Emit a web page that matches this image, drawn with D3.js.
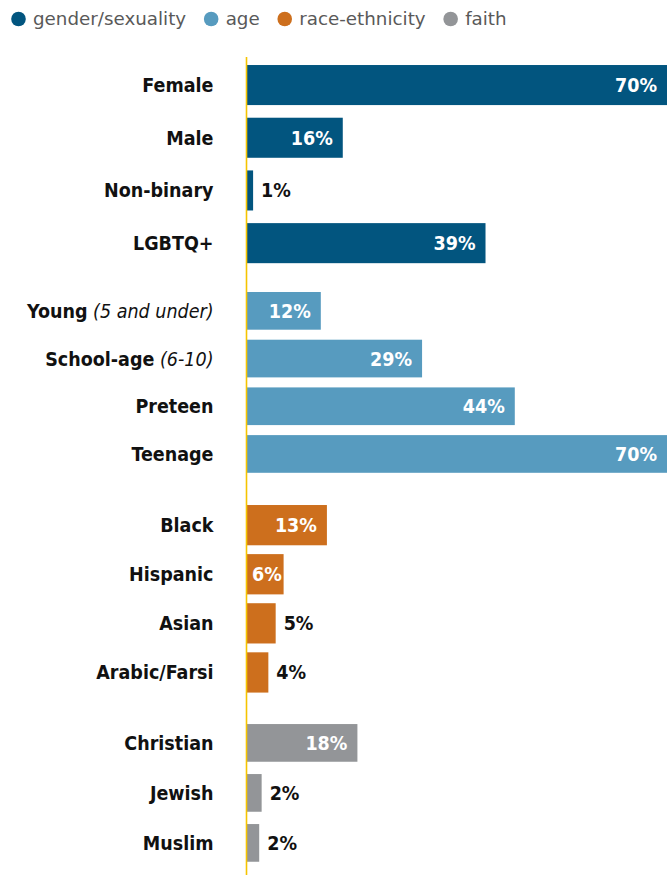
<!DOCTYPE html>
<html>
<head>
<meta charset="utf-8">
<script src="https://cdn.jsdelivr.net/npm/d3@7"></script>
<style>
  html, body { margin: 0; padding: 0; background: #fff; }
  svg { display: block; }
  text { font-family: "DejaVu Sans", Verdana, sans-serif; }
  text.lbl { font-family: "DejaVu Sans Condensed", "DejaVu Sans", sans-serif; font-stretch: condensed; }
</style>
</head>
<body>
<svg id="chart" width="667" height="875"></svg>
<script>
// ---- data ----
const groups = ["gender/sexuality", "age", "race-ethnicity", "faith"];
const groupColors = ["#02557f", "#579bbf", "#cd6f1d", "#939598"];

const genderCats = ["Female", "Male", "Non-binary", "LGBTQ+"];
const genderVals = [70, 15.7, 1.0, 39.1];

const ageCats = ["Young", "School-age", "Preteen", "Teenage"];
const ageNotes = ["(5 and under)", "(6-10)", "", ""];
const ageVals = [12.1, 28.7, 43.9, 70];

const raceCats = ["Black", "Hispanic", "Asian", "Arabic/Farsi"];
const raceVals = [13.1, 6.0, 4.7, 3.5];

const faithCats = ["Christian", "Jewish", "Muslim"];
const faithVals = [18.1, 2.4, 2.0];

// ---- layout ----
const W = 667, H = 875;
const svg = d3.select("#chart");
const axisX = 247;
const x = d3.scaleLinear().domain([0, 70]).range([axisX, axisX + 427]);

const groupData = [
  { cats: genderCats, notes: genderCats.map(() => ""), vals: genderVals, range: [58.7, 269.5], pad: 0.24 },
  { cats: ageCats, notes: ageNotes, vals: ageVals, range: [287, 477.8], pad: 0.21 },
  { cats: raceCats, notes: raceCats.map(() => ""), vals: raceVals, range: [500.6, 697], pad: 0.18 },
  { cats: faithCats, notes: faithCats.map(() => ""), vals: faithVals, range: [717.9, 867.9], pad: 0.246 }
];

const defs = svg.append("defs");
defs.append("clipPath").attr("id", "clip")
  .append("rect").attr("x", 0).attr("y", 0).attr("width", W).attr("height", H);

const plot = svg.append("g").attr("clip-path", "url(#clip)");

groupData.forEach((g, gi) => {
  const y = d3.scaleBand().domain(g.cats).range(g.range)
    .paddingInner(g.pad).paddingOuter(g.pad / 2);
  const rows = g.cats.map((c, i) => ({ cat: c, note: g.notes[i], val: g.vals[i] }));
  const color = groupColors[gi];

  const gg = plot.append("g");

  gg.selectAll("rect").data(rows).join("rect")
    .attr("x", x(0))
    .attr("y", d => y(d.cat))
    .attr("width", d => x(d.val) - x(0))
    .attr("height", y.bandwidth())
    .attr("fill", color);

  // category labels
  const lab = svg.append("g").selectAll("text").data(rows).join("text")
    .attr("class", "lbl")
    .attr("x", 213.5)
    .attr("y", d => y(d.cat) + y.bandwidth() / 2)
    .attr("dy", "0.36em")
    .attr("text-anchor", "end")
    .attr("font-size", 19.5)
    .attr("fill", "#111");
  lab.append("tspan").attr("font-weight", "bold").text(d => d.cat);
  lab.filter(d => d.note).append("tspan")
    .attr("font-style", "italic").attr("font-weight", "normal")
    .text(d => "\u00a0" + d.note);

  // value labels
  const vl = svg.append("g").selectAll("text").data(rows).join("text")
    .attr("class", "lbl")
    .attr("y", d => y(d.cat) + y.bandwidth() / 2)
    .attr("dy", "0.36em")
    .attr("font-size", 19.5)
    .attr("font-weight", "bold")
    .text(d => Math.round(d.val) + "%");
  vl.each(function (d) {
    const t = d3.select(this);
    const tw = this.getComputedTextLength();
    const barEnd = Math.min(x(d.val), W);
    const bw = x(d.val) - x(0);
    if (bw > tw + 4) {
      const endX = Math.max(barEnd - 10, x(0) + 5 + tw);
      t.attr("x", endX).attr("text-anchor", "end").attr("fill", "#fff");
    } else {
      t.attr("x", x(d.val) + 8).attr("text-anchor", "start").attr("fill", "#111");
    }
  });
});

// baseline axis (yellow)
svg.append("line")
  .attr("x1", axisX - 0.5).attr("x2", axisX - 0.5)
  .attr("y1", 57).attr("y2", H)
  .attr("stroke", "#f5c400").attr("stroke-width", 1.6);

// ---- legend ----
const legend = svg.append("g");
let lx = 18.5;
groups.forEach((name, i) => {
  legend.append("circle").attr("cx", lx).attr("cy", 19).attr("r", 7.3)
    .attr("fill", groupColors[i]);
  const t = legend.append("text")
    .attr("x", lx + 14.5).attr("y", 19).attr("dy", "0.35em")
    .attr("font-size", 18.3).attr("fill", "#595959")
    .text(name);
  const w = t.node().getComputedTextLength();
  lx = lx + 14.5 + w + 25;
});
</script>
</body>
</html>
